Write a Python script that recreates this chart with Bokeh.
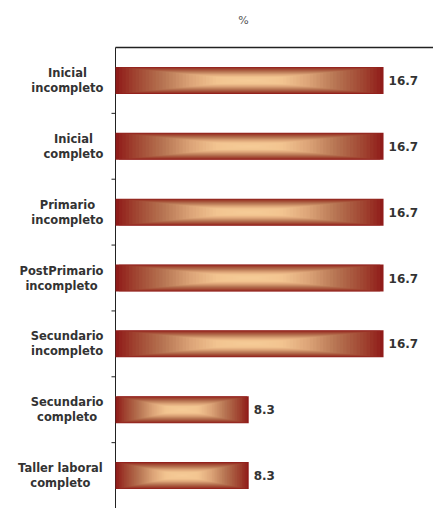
import math
from bokeh.plotting import figure
from bokeh.models import Range1d, ColumnDataSource
from bokeh.embed import file_html
from bokeh.resources import INLINE
from bokeh.core.properties import value

# Education level distribution (%)
categories = [
    "Inicial\nincompleto",
    "Inicial\ncompleto",
    "Primario\nincompleto",
    "PostPrimario\nincompleto",
    "Secundario\nincompleto",
    "Secundario\ncompleto",
    "Taller laboral\ncompleto",
]
percent = [16.7, 16.7, 16.7, 16.7, 16.7, 8.3, 8.3]
value_labels = ["16.7", "16.7", "16.7", "16.7", "16.7", "8.3", "8.3"]
title_text = "%"

W, H = 433, 508
axis_px = 115          # left edge of the plotting area
top_px = 47            # top rule
px_per_unit = 16.05    # horizontal scale
n = len(categories)
band_px = (H - top_px) / n

x_start = -axis_px / px_per_unit
x_end = (W - axis_px) / px_per_unit
y_end = n + top_px / band_px

centres = [n - i - 0.5 for i in range(n)]
boundaries = [float(k) for k in range(1, n)]

p = figure(
    width=W, height=H,
    x_range=Range1d(x_start, x_end), y_range=Range1d(0, y_end),
    output_backend="svg", toolbar_location=None,
    min_border=0, background_fill_color="white", border_fill_color="white",
)
p.outline_line_color = None
p.xgrid.visible = False
p.ygrid.visible = False
p.xaxis.visible = False
p.yaxis.visible = False

# frame lines: top rule and left axis
p.segment(x0=[0], y0=[n], x1=[x_end], y1=[n], line_color="#222222", line_width=1.6)
p.segment(x0=[0], y0=[0], x1=[0], y1=[n], line_color="#222222", line_width=1)
# short ticks at slot boundaries
p.ray(x=[0] * len(boundaries), y=boundaries, length=4, length_units="screen",
      angle=math.pi, line_color="#222222", line_width=1)

# bars: nested rectangles from the edge (dark red) to the centre (peach)
stops = [
    (1.00, (0x90, 0x1C, 0x1A)),
    (0.88, (0x9E, 0x40, 0x2E)),
    (0.66, (0xB6, 0x74, 0x52)),
    (0.45, (0xDC, 0xA4, 0x78)),
    (0.26, (0xF2, 0xC4, 0x90)),
    (0.00, (0xF6, 0xCC, 0x98)),
]


def ramp(s):
    for (s1, c1), (s0, c0) in zip(stops[:-1], stops[1:]):
        if s0 <= s <= s1:
            f = (s - s0) / (s1 - s0) if s1 > s0 else 0
            return "#%02x%02x%02x" % tuple(int(round(c0[j] + (c1[j] - c0[j]) * f)) for j in range(3))
    return "#%02x%02x%02x" % stops[-1][1]


bar_h = 0.41
layers = 40
for k in range(layers):
    s = 1 - k / layers
    src = ColumnDataSource(dict(
        y=centres,
        left=[v * (1 - s) / 2 for v in percent],
        right=[v * (1 + s) / 2 for v in percent],
    ))
    p.hbar(y="y", left="left", right="right", height=bar_h * s, source=src,
           fill_color=ramp(s), line_color=None)

# value labels at bar ends
lab_src = ColumnDataSource(dict(x=percent, y=centres, t=value_labels))
p.text(x="x", y="y", text="t", source=lab_src, x_offset=5,
       text_baseline="middle", text_align="left",
       text_font=value("DejaVu Sans"), text_font_style="bold",
       text_font_size="12px", text_color="#333333")

# category names: each two-line block sits right against the axis,
# its lines centred on one another
LABEL_PX = 11.5
EM = {
    "a": .675, "b": .716, "c": .593, "d": .716, "e": .678, "f": .435, "g": .716,
    "h": .712, "i": .343, "j": .343, "k": .665, "l": .343, "m": 1.042, "n": .712,
    "o": .687, "p": .716, "q": .716, "r": .493, "s": .595, "t": .478, "u": .712,
    "v": .652, "w": .924, "x": .645, "y": .652, "z": .582, " ": .348,
    "I": .372, "P": .733, "S": .720, "T": .682,
}


def text_width(t):
    return sum(EM.get(ch, .7) for ch in t) * LABEL_PX


line1, line2, offs = [], [], []
for c in categories:
    a, b = c.split("\n")
    line1.append(a)
    line2.append(b)
    block = max(text_width(a), text_width(b))
    offs.append(-(12 + block / 2))

name_style = dict(text_align="center", text_baseline="middle",
                  text_font=value("DejaVu Sans"), text_font_style="bold",
                  text_font_size="%.1fpx" % LABEL_PX, text_color="#333333")
src1 = ColumnDataSource(dict(x=[0] * n, y=centres, t=line1, dx=offs))
src2 = ColumnDataSource(dict(x=[0] * n, y=centres, t=line2, dx=offs))
p.text(x="x", y="y", text="t", x_offset="dx", y_offset=-7.5, source=src1, **name_style)
p.text(x="x", y="y", text="t", x_offset="dx", y_offset=7.5, source=src2, **name_style)

# unit caption above the top rule
p.text(x=[0], y=[n], text=[title_text], x_offset=128, y_offset=-27,
       text_align="center", text_baseline="middle",
       text_font=value("DejaVu Sans"), text_font_size="11px", text_color="#555555")

open("out.html", "w").write(file_html(p, INLINE))
